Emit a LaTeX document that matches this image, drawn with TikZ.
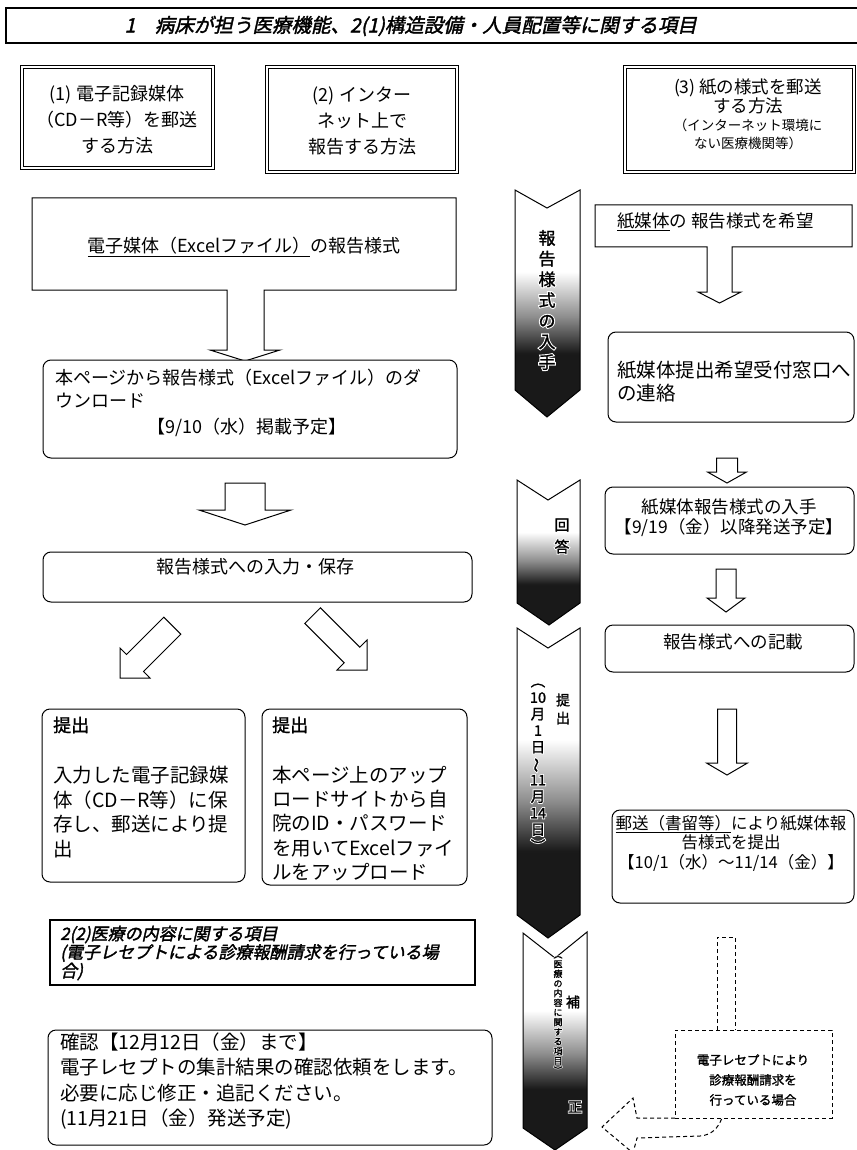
\documentclass[tikz,border=0pt]{standalone}
\usepackage{fontspec}
\setmainfont{Noto Sans CJK JP}
\newfontfamily\jpbi[FakeSlant=0.22,FakeBold=1.8]{Noto Sans CJK JP}
\newfontfamily\jpb[FakeBold=1.4]{Noto Sans CJK JP}
\newfontfamily\jpbh[FakeBold=14]{Noto Sans CJK JP}
\usetikzlibrary{fit}
\newcommand{\fsz}[2]{\fontsize{#1}{#2}\selectfont}
\pgfdeclareverticalshading{chevshade}{100bp}{color(0bp)=(black!90); color(39bp)=(black!90); color(47bp)=(black!45); color(57bp)=(white); color(100bp)=(white)}
\newcommand{\chevtext}[5]{%
  \node[vt, text=white, font=\jpbh\fsz{#3}{#4}] (#1h) at #2 {#5};
  \node[vt, font=\jpb\fsz{#3}{#4}] (#1) at #2 {#5};}
\begin{document}
\begin{tikzpicture}[x=1pt,y=-1pt,
  box/.style={draw, line width=1pt, fill=white, inner sep=0},
  rbox/.style={box, rounded corners=8pt},
  dbox/.style={draw, double, double distance=1.8pt, line width=0.8pt, inner sep=0},
  txt/.style={inner sep=0, font=\fsz{18}{22}},
  vt/.style={inner sep=0, align=center},
  blk/.style={draw, line width=1pt, fill=white, line join=miter},
  chev/.style={shading=chevshade, draw=black, line width=1pt},
  dsh/.style={draw, line width=1pt, dash pattern=on 4pt off 3pt}
]
\useasboundingbox[fill=white] (0,0) rectangle (856,1150);

% header
\node[box, line width=1.2pt, fit={(6,8) (870,43)}] (hdr) {};
\node[txt, anchor=east, font=\jpbi\fsz{19.5}{21}] (hdrt) at (697,26) {1\quad 病床が担う医療機能、2(1)構造設備・人員配置等に関する項目};

% method boxes
\node[dbox, fit={(22,67) (213,168)}] (m1) {};
\node[txt, align=center, font=\fsz{18}{26}] (m1t) at (117,120) {(1) 電子記録媒体\\（CD－R等）を郵送\\する方法};
\node[dbox, fit={(267,67) (457,172)}] (m2) {};
\node[txt, align=center, font=\fsz{18}{26}] (m2t) at (362,121) {(2) インター\\ネット上で\\報告する方法};
\node[dbox, fit={(625,67) (854,172)}] (m3) {};
\node[txt, align=center, font=\fsz{17.5}{19}] (m3t) at (748,96.5) {(3) 紙の様式を郵送\\する方法};
\node[txt, align=center, font=\fsz{13.5}{18}] (m3s) at (748,134) {（インターネット環境に\\ない医療機関等）};

% left flow
\draw[blk] (32,198) -- (456,198) -- (456,290) -- (264,290) -- (264,350) -- (280,350) -- (245,361) -- (210,350) -- (227,350) -- (227,290) -- (32,290) -- cycle;
\node[txt] (ext) at (244,247) {\underline{電子媒体（Excelファイル）}の報告様式};

\node[rbox, fit={(43,360) (457,458)}] (dl) {};
\node[txt, anchor=west, align=left, font=\fsz{18}{23}] (dlt) at (55,388.5) {本ページから報告様式（Excelファイル）のダ\\ウンロード};
\node[txt] (dld) at (247,427) {【9/10（水）掲載予定】};

\draw[blk] (225,483) -- (265,483) -- (265,510) -- (291,510) -- (245,525) -- (199,510) -- (225,510) -- cycle;

\node[rbox, fit={(43,552) (472,602)}] (inp) {};
\node[txt] (inpt) at (255,567) {報告様式への入力・保存};

\draw[blk] (163.8,617.2) -- (180.8,634.2) -- (143.5,671.5) -- (150,678) -- (120,678) -- (120,648) -- (126.5,654.5) -- cycle;
\draw[blk] (304.8,623.4) -- (320.4,607.8) -- (359.8,647.2) -- (367,640) -- (367,670) -- (337,670) -- (344.2,662.8) -- cycle;

\node[rbox, fit={(42,709) (245,882)}] (s1) {};
\node[txt, anchor=west, font=\jpb\fsz{18}{22}] (s1h) at (53,725) {提出};
\node[txt, anchor=west, align=left, font=\fsz{19.5}{24.5}] (s1b) at (53,812) {入力した電子記録媒\\体（CD－R等）に保\\存し、郵送により提\\出};
\node[rbox, fit={(262,709) (467,885)}] (s2) {};
\node[txt, anchor=west, font=\jpb\fsz{18}{22}] (s2h) at (272,725) {提出};
\node[txt, anchor=west, align=left, font=\fsz{19.5}{24.25}] (s2b) at (272,823.5) {本ページ上のアップ\\ロードサイトから自\\院のID・パスワード\\を用いてExcelファイ\\ルをアップロード};

\node[box, line width=1.1pt, fit={(50,920) (475,985)}] (s22) {};
\node[txt, anchor=west, align=left, font=\jpbi\fsz{17}{18.5}] (s22t) at (60,953) {2(2)医療の内容に関する項目\\(電子レセプトによる診療報酬請求を行っている場\\合)};

\node[rbox, fit={(48,1030) (492,1145)}] (cf) {};
\node[txt, anchor=west, align=left, font=\fsz{19.5}{25.5}] (cft) at (60,1081) {確認【12月12日（金）まで】\\電子レセプトの集計結果の確認依頼をします。\\必要に応じ修正・追記ください。\\(11月21日（金）発送予定)};

% chevrons
\shadedraw[chev] (515,190) -- (547,208) -- (580,190) -- (580,390) -- (547,417) -- (515,390) -- cycle;
\shadedraw[chev] (517,480) -- (548,500) -- (580,480) -- (580,603) -- (549,625) -- (517,603) -- cycle;
\shadedraw[chev] (517,628) -- (548,648) -- (580,628) -- (580,915) -- (548,938) -- (517,915) -- cycle;
\shadedraw[chev] (523,933) -- (555,958) -- (587,932) -- (587,1128) -- (555,1150) -- (523,1128) -- cycle;
\chevtext{c1t}{(547,300)}{17}{20.7}{報\\告\\様\\式\\の\\入\\手}
\chevtext{c2t}{(562,536)}{15}{22}{回\\答}
\chevtext{c3a}{(563,709)}{14}{18}{提\\出}
\chevtext{c3b}{(538,767.5)}{14.5}{16.5}{︵\\10\\月\\1\\日\\\rotatebox[origin=c]{90}{〜}\\11\\月\\14\\日\\︶}
\chevtext{c4a}{(573,1002)}{14}{18}{補}
\chevtext{c4b}{(575,1107)}{14}{18}{正}
\chevtext{c4c}{(558,1015)}{9}{9.67}{︵\\医\\療\\の\\内\\容\\に\\関\\す\\る\\項\\目\\︶}

% right flow
\draw[blk] (595,205) -- (852,205) -- (852,247) -- (732,247) -- (732,292) -- (741,292) -- (719.5,303) -- (698,292) -- (707,292) -- (707,247) -- (595,247) -- cycle;
\node[txt, anchor=west, font=\fsz{17.5}{20}] (pw) at (617,222) {\underline{紙媒体}の 報告様式を希望};

\node[rbox, fit={(608,332) (854,422)}] (ct) {};
\node[txt, anchor=west, align=left, font=\fsz{19.5}{23}] (ctt) at (617,381.5) {紙媒体提出希望受付窓口へ\\の連絡};

\draw[blk] (716.5,458) -- (737.5,458) -- (737.5,472) -- (746.5,472) -- (727,483) -- (707.5,472) -- (716.5,472) -- cycle;

\node[rbox, fit={(605,487) (854,554)}] (gb) {};
\node[txt, align=center, font=\fsz{17.5}{20}] (gbt) at (729,518) {紙媒体報告様式の入手\\【9/19（金）以降発送予定】};

\draw[blk] (716,569) -- (736,569) -- (736,598) -- (745,598) -- (726,612) -- (707,598) -- (716,598) -- cycle;

\node[rbox, fit={(605,625) (854,672)}] (wb) {};
\node[txt, font=\fsz{17.5}{20}] (wbt) at (733,642) {報告様式への記載};

\draw[blk] (717.5,709) -- (736.5,709) -- (736.5,763) -- (747.5,763) -- (727,775) -- (706.5,763) -- (717.5,763) -- cycle;

\node[rbox, fit={(612,810) (854,903)}] (mb) {};
\node[txt, align=center, font=\fsz{16.5}{19.5}] (mbt) at (731,843) {\underline{郵送（書留等）}により紙媒体報\\告様式を提出\\【10/1（水）〜11/14（金）】};

% dashed note
\draw[dsh] (717,1030) -- (717,937) -- (735,937) -- (735,1030);
\node[dsh, inner sep=0, fit={(675,1030) (832,1118)}] (dn) {};
\draw[dsh] (675,1118) -- (637,1118) -- (633,1098) -- (602,1127) -- (633,1153) -- (637,1138) -- (700,1136) .. controls (712,1135) and (718,1128) .. (722,1118);
\node[vt, font=\jpb\fsz{12.5}{20}] (dnt) at (753,1080) {電子レセプトにより\\診療報酬請求を\\行っている場合};
\end{tikzpicture}
\end{document}
